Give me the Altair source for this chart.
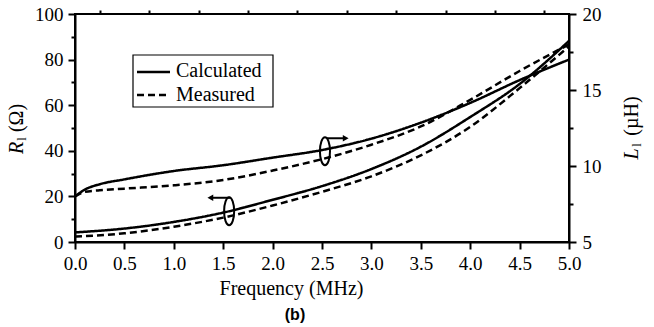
import altair as alt

# ---- data ----
freq_r = [0.0, 0.5, 1.0, 1.5, 2.0, 2.5, 3.0, 3.5, 4.0, 4.5, 5.0]
r_calc = [4.2, 5.9, 8.8, 12.9, 18.5, 24.5, 32.0, 41.8, 54.8, 69.3, 88.2]
r_meas = [2.4, 3.8, 6.7, 10.7, 16.0, 22.0, 28.8, 38.0, 50.5, 67.5, 85.8]

freq_l = [0.0, 0.1, 0.25, 0.5, 1.0, 1.5, 2.0, 2.5, 3.0, 3.5, 4.0, 4.5, 5.0]
l_calc = [8.0, 8.45, 8.8, 9.12, 9.67, 10.05, 10.55, 11.05, 11.8, 12.85, 14.15, 15.65, 17.0]
l_meas = [8.0, 8.3, 8.4, 8.51, 8.73, 9.08, 9.7, 10.45, 11.4, 12.6, 14.35, 16.25, 18.0]

x_major = [0.0, 0.5, 1.0, 1.5, 2.0, 2.5, 3.0, 3.5, 4.0, 4.5, 5.0]
x_minor = [0.25, 0.75, 1.25, 1.75, 2.25, 2.75, 3.25, 3.75, 4.25, 4.75]
r_major = [0, 20, 40, 60, 80, 100]
r_minor = [10, 30, 50, 70, 90]
l_major = [5, 10, 15, 20]
l_minor = [7.5, 12.5, 17.5]

# annotation (rotation loops) in data units of the R axis
loop_f = [2.53, 1.56]
loop_r = [39.8, 13.5]
arrow_f1 = [2.55, 1.57]
arrow_f2 = [2.74, 1.37]
arrow_r = [45.5, 19.4]
arrow_shape = ["triangle-right", "triangle-left"]

series_types = ["Calculated", "Measured"]

rows_r = []
for f, c, m in zip(freq_r, r_calc, r_meas):
    rows_r.append({"f": f, "v": c, "type": "Calculated"})
    rows_r.append({"f": f, "v": m, "type": "Measured"})

rows_l = []
for f, c, m in zip(freq_l, l_calc, l_meas):
    rows_l.append({"f": f, "v": c, "type": "Calculated"})
    rows_l.append({"f": f, "v": m, "type": "Measured"})

loops = [{"f": f, "r": r} for f, r in zip(loop_f, loop_r)]
arrows = [{"f1": a, "f2": b, "r": r, "shape": s} for a, b, r, s in zip(arrow_f1, arrow_f2, arrow_r, arrow_shape)]

FONT = "Liberation Serif"
xscale = alt.Scale(domain=[0, 5], nice=False, zero=False)
rscale = alt.Scale(domain=[0, 100], nice=False)
lscale = alt.Scale(domain=[5, 20], nice=False, zero=False)
dash = alt.StrokeDash("type:N", scale=alt.Scale(domain=series_types, range=[[1, 0], [7, 4]]), legend=None)

AX = dict(domainColor="black", domainWidth=2, tickColor="black", tickWidth=2, grid=False,
          labelColor="black", labelFont=FONT, labelFontSize=19)


def axis(**kw):
    d = dict(AX)
    d.update(kw)
    return alt.Axis(**d)


# ---- left (R) group ----
r_lines = alt.Chart(alt.Data(values=rows_r)).mark_line(color="black", strokeWidth=2.5, interpolate="monotone").encode(
    x=alt.X("f:Q", scale=xscale, axis=axis(values=x_major, format=".1f", tickSize=7, labelPadding=5,
                                           labelFlush=False, labelOverlap=False,
                                           titleFont=FONT, titleFontSize=20, titleColor="black",
                                           titleFontWeight="normal",
                                           title="Frequency (MHz)", titleX=216, titlePadding=5)),
    y=alt.Y("v:Q", scale=rscale, axis=axis(orient="left", values=r_major, tickSize=7, labelPadding=5,
                                           title=None, labelFlush=False)),
    strokeDash=dash,
    detail="type:N",
)
r_minor_layer = alt.Chart(alt.Data(values=rows_r)).mark_point(opacity=0).encode(
    x=alt.X("f:Q", scale=xscale, axis=axis(values=x_minor, tickSize=4, labels=False, domain=False, title=None)),
    y=alt.Y("v:Q", scale=rscale, axis=axis(orient="left", values=r_minor, tickSize=4, labels=False,
                                           domain=False, title=None)),
)
loop_layer = alt.Chart(alt.Data(values=loops)).mark_point(
    shape="M0,-1A0.36,1,0,1,1,0,1A0.36,1,0,1,1,0,-1Z", size=784, filled=False,
    stroke="black", strokeWidth=2, opacity=1
).encode(
    x=alt.X("f:Q", scale=xscale, axis=None),
    y=alt.Y("r:Q", scale=rscale, axis=None),
)
arrow_shaft = alt.Chart(alt.Data(values=arrows)).mark_rule(color="black", strokeWidth=2).encode(
    x=alt.X("f1:Q", scale=xscale, axis=None),
    x2="f2:Q",
    y=alt.Y("r:Q", scale=rscale, axis=None),
)
arrow_head = alt.Chart(alt.Data(values=arrows)).mark_point(filled=True, color="black", size=45, opacity=1).encode(
    x=alt.X("f2:Q", scale=xscale, axis=None),
    y=alt.Y("r:Q", scale=rscale, axis=None),
    shape=alt.Shape("shape:N", scale=None),
)


def txt(text, x, y, size=20, style="normal", weight="normal", font=FONT, angle=0, align="center"):
    return alt.Chart(alt.Data(values=[{}])).mark_text(
        text=text, font=font, fontSize=size, fontStyle=style, fontWeight=weight,
        angle=angle, align=align, baseline="middle", color="black").encode(
        x=alt.value(x), y=alt.value(y))


# legend box
legend_box = alt.Chart(alt.Data(values=[{}])).mark_rect(fillOpacity=0, stroke="black", strokeWidth=1.2).encode(
    x=alt.value(58), x2=alt.value(198), y=alt.value(41), y2=alt.value(93))
leg_calc = alt.Chart(alt.Data(values=[{}])).mark_rule(color="black", strokeWidth=2.5).encode(
    x=alt.value(62), x2=alt.value(95), y=alt.value(58))
leg_meas = alt.Chart(alt.Data(values=[{}])).mark_rule(color="black", strokeWidth=2.5, strokeDash=[7, 4]).encode(
    x=alt.value(62), x2=alt.value(95), y=alt.value(81))
leg_t1 = txt(series_types[0], 101, 57, align="left")
leg_t2 = txt(series_types[1], 101, 81, align="left")

left_title = [
    txt("R", -58, 134, style="italic", angle=270),
    txt("l", -53, 125, size=13, angle=270),
    txt("(Ω)", -58, 104, angle=270),
]
right_title = [
    txt("L", 557, 140, style="italic", angle=270),
    txt("l", 562, 131, size=13, angle=270),
    txt("(µH)", 557, 102, angle=270),
]
panel_label = txt("(b)", 220, 301, size=16, weight="bold", font="Liberation Sans")

left = alt.layer(
    r_lines, r_minor_layer, loop_layer, arrow_shaft, arrow_head,
    legend_box, leg_calc, leg_meas, leg_t1, leg_t2, panel_label, *left_title, *right_title
).resolve_axis(x="independent", y="independent")

# ---- right (L) group ----
l_lines = alt.Chart(alt.Data(values=rows_l)).mark_line(color="black", strokeWidth=2.5, interpolate="monotone").encode(
    x=alt.X("f:Q", scale=xscale, axis=None),
    y=alt.Y("v:Q", scale=lscale, axis=axis(orient="right", values=l_major, tickSize=7, labelPadding=6,
                                           title=None, labelFlush=False)),
    strokeDash=dash,
    detail="type:N",
)
l_minor_layer = alt.Chart(alt.Data(values=rows_l)).mark_point(opacity=0).encode(
    x=alt.X("f:Q", scale=xscale, axis=None),
    y=alt.Y("v:Q", scale=lscale, axis=axis(orient="right", values=l_minor, tickSize=4, labels=False,
                                           domain=False, title=None)),
)
right = alt.layer(l_lines, l_minor_layer).resolve_axis(y="independent")

chart = alt.layer(left, right).resolve_scale(y="independent").properties(
    width=494, height=228,
    padding={"left": 7, "top": 5, "right": 5, "bottom": 5},
    view=alt.ViewBackground(stroke="black", strokeWidth=2),
)

chart.save("out.html", embed_options={"renderer": "svg", "actions": False})
